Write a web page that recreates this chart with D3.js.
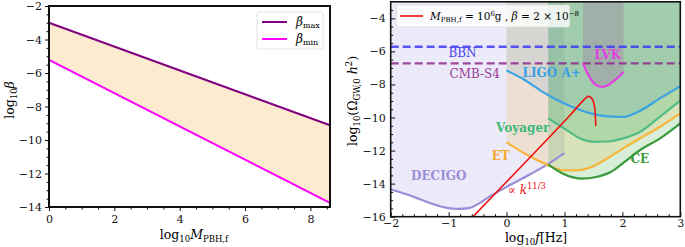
<!DOCTYPE html>
<html>
<head>
<meta charset="utf-8">
<script src="https://cdn.jsdelivr.net/npm/d3@7"></script>
<style>
  body { margin: 0; background: #fff; }
  svg text { font-family: "DejaVu Serif", serif; }
</style>
</head>
<body>
<div id="chart"></div>
<script>
// ---- data ---------------------------------------------------------
// left panel: log10 beta bounds vs log10 M
const betaMax = [[0, -3.0], [8.6, -9.12]];
const betaMin = [[0, -5.22], [8.6, -13.75]];

// right panel: sensitivity curves, [log10 f, log10 Omega h^2]
const decigo = [[-2, -14.34], [-1.6, -14.8], [-1.3, -15.2], [-1.05, -15.45], [-0.85, -15.53],
  [-0.65, -15.48], [-0.5, -15.25], [-0.3, -14.8], [0, -14.2], [0.4, -13.45], [0.7, -12.85], [1.0, -12.15]];
const ligo = [[0, -7.15], [0.3, -7.7], [0.6, -8.4], [0.9, -8.98], [1.2, -9.45], [1.45, -9.75],
  [1.7, -9.92], [2.0, -9.97], [2.3, -9.6], [2.65, -8.84], [3.0, -8.1]];
const voyager = [[0.72, -10.05], [0.9, -10.45], [1.1, -10.9], [1.3, -11.32], [1.5, -11.47],
  [1.75, -11.45], [2.0, -11.28], [2.3, -10.88], [2.65, -9.95], [3.0, -8.98]];
const et = [[0, -11.5], [0.35, -12.25], [0.7, -12.85], [0.95, -13.18], [1.2, -13.2], [1.5, -12.95],
  [1.75, -12.45], [2.0, -11.9], [2.3, -11.27], [2.65, -10.56], [3.0, -9.75]];
const ce = [[0.72, -12.85], [0.95, -13.35], [1.15, -13.62], [1.3, -13.7], [1.55, -13.6],
  [1.8, -13.3], [2.05, -12.65], [2.3, -11.98], [2.65, -11.26], [3.0, -10.35]];
const lvk = [[1.32, -6.7], [1.38, -7.2], [1.45, -7.65], [1.55, -8.05], [1.65, -8.15],
  [1.75, -8.05], [1.85, -7.8], [1.95, -7.5], [2.02, -7.25]];
const pbhSignal = [[-0.62, -16.15], [1.1, -9.85], [1.25, -9.25], [1.33, -8.95], [1.38, -8.78],
  [1.42, -8.72], [1.46, -8.8], [1.5, -9.05], [1.525, -9.5], [1.535, -10.0], [1.54, -10.5]];
const bbnLevel = -5.72;
const cmbLevel = -6.72;

const leftXTicks = [0, 2, 4, 6, 8];
const leftYTicks = [-2, -4, -6, -8, -10, -12, -14];
const rightXTicks = [-2, -1, 0, 1, 2, 3];
const rightYTicks = [-4, -6, -8, -10, -12, -14, -16];

const W = 685, H = 247;
const svg = d3.select('#chart').append('svg')
  .attr('width', W).attr('height', H);

const fmt = v => (v < 0 ? '\u2212' + Math.abs(v) : '' + v);

// ---- left panel ------------------------------------------------------
const xL = d3.scaleLinear().domain([0, 8.6]).range([49, 330]);
const yL = d3.scaleLinear().domain([-14, -2]).range([207, 6]);
const gL = svg.append('g');

gL.append('path')
  .datum(betaMax.map((d, i) => [d[0], d[1], betaMin[i][1]]))
  .attr('fill', '#fdebd0')
  .attr('d', d3.area().x(d => xL(d[0])).y0(d => yL(d[2])).y1(d => yL(d[1])));

const lineL = d3.line().x(d => xL(d[0])).y(d => yL(d[1]));
gL.append('path').datum(betaMax).attr('fill', 'none').attr('stroke', '#800080')
  .attr('stroke-width', 2).attr('d', lineL);
gL.append('path').datum(betaMin).attr('fill', 'none').attr('stroke', '#ff00ff')
  .attr('stroke-width', 2).attr('d', lineL);

// axes, ticks outward
gL.append('g').attr('transform', 'translate(0,207)')
  .call(d3.axisBottom(xL).tickValues(leftXTicks).tickFormat(fmt).tickSize(4).tickPadding(4));
gL.append('g').attr('transform', 'translate(0,207)')
  .call(d3.axisBottom(xL).tickValues(d3.range(0, 8.6, 0.5).filter(v => v % 2 !== 0)).tickFormat('').tickSize(2.5));
gL.append('g').attr('transform', 'translate(49,0)')
  .call(d3.axisLeft(yL).tickValues(leftYTicks).tickFormat(fmt).tickSize(4).tickPadding(3));
gL.append('g').attr('transform', 'translate(49,0)')
  .call(d3.axisLeft(yL).tickValues(d3.range(-14, -2, 0.5).filter(v => v % 2 !== 0)).tickFormat('').tickSize(2.5));

gL.append('rect').attr('x', 49).attr('y', 6).attr('width', 281).attr('height', 201)
  .attr('fill', 'none').attr('stroke', '#111').attr('stroke-width', 2);

// legend
const lgL = gL.append('g');
lgL.append('rect').attr('x', 257).attr('y', 12).attr('width', 66).attr('height', 37).attr('rx', 2)
  .attr('fill', '#fff').attr('stroke', '#ddd').attr('stroke-width', 0.8);
[['#800080', 'max', 22], ['#ff00ff', 'min', 39]].forEach(([c, s, yy]) => {
  lgL.append('line').attr('x1', 262).attr('x2', 287).attr('y1', yy).attr('y2', yy)
    .attr('stroke', c).attr('stroke-width', 2);
  const t = lgL.append('text').attr('x', 296).attr('y', yy + 4).attr('font-size', 12);
  t.append('tspan').attr('font-style', 'italic').text('\u03b2');
  t.append('tspan').attr('font-size', 8).attr('dy', 2).text(s);
});

// ---- right panel -----------------------------------------------------
const xR = d3.scaleLinear().domain([-2, 3]).range([390.7, 680.3]);
const yR = d3.scaleLinear().domain([-16, -3]).range([216.7, 1.8]);
const gR = svg.append('g');

svg.append('defs').append('clipPath').attr('id', 'clipR')
  .append('rect').attr('x', 390.7).attr('y', 1.8).attr('width', 289.6).attr('height', 214.9);
const plot = gR.append('g').attr('clip-path', 'url(#clipR)');

const yTop = yR(-3);
const areaTop = d3.area().curve(d3.curveMonotoneX)
  .x(d => xR(d[0])).y0(yTop).y1(d => yR(d[1]));
const lineR = d3.line().curve(d3.curveMonotoneX).x(d => xR(d[0])).y(d => yR(d[1]));

const fills = [
  [decigo, '#9b8cdc', 0.19],
  [et, '#ffa500', 0.15],
  [ce, '#2ca02c', 0.18],
  [voyager, '#3cb371', 0.26],
  [ligo, '#3d8fd0', 0.13],
  [lvk, '#9a3aa0', 0.2]
];
fills.forEach(([d, c, o]) => {
  plot.append('path').datum(d).attr('fill', c).attr('fill-opacity', o).attr('d', areaTop);
});

// dashed bounds
plot.append('line').attr('x1', xR(-2)).attr('x2', xR(3)).attr('y1', yR(bbnLevel)).attr('y2', yR(bbnLevel))
  .attr('stroke', '#3b3bf5').attr('stroke-width', 2.4).attr('stroke-dasharray', '8,4').attr('stroke-opacity', 0.85);
plot.append('line').attr('x1', xR(-2)).attr('x2', xR(3)).attr('y1', yR(cmbLevel)).attr('y2', yR(cmbLevel))
  .attr('stroke', '#8e2a8e').attr('stroke-width', 2.2).attr('stroke-dasharray', '8,4').attr('stroke-opacity', 0.85);

const curves = [
  [decigo, '#9b8ed8'],
  [et, '#f6b53c'],
  [ce, '#3a9a3a'],
  [voyager, '#4fbd85'],
  [ligo, '#3ba3e3'],
  [lvk, '#e33fe3']
];
curves.forEach(([d, c]) => {
  plot.append('path').datum(d).attr('fill', 'none').attr('stroke', c)
    .attr('stroke-width', 2.2).attr('d', lineR);
});
plot.append('path').datum(pbhSignal).attr('fill', 'none').attr('stroke', '#ee1111')
  .attr('stroke-width', 1.6).attr('d', d3.line().curve(d3.curveCatmullRom).x(d => xR(d[0])).y(d => yR(d[1])));

// labels
const labels = [
  ['BBN', -0.76, -6.35, '#4848ee', 'normal'],
  ['CMB-S4', -0.55, -7.6, '#9a3c9a', 'normal'],
  ['LIGO A+', 0.78, -7.55, '#3a9fe0', 'bold'],
  ['LVK', 1.75, -6.45, '#e33fe3', 'bold'],
  ['Voyager', 0.28, -10.85, '#3cb878', 'bold'],
  ['ET', -0.1, -12.6, '#f5a930', 'bold'],
  ['CE', 2.3, -12.75, '#3a9a3a', 'bold'],
  ['DECIGO', -1.17, -13.8, '#9b8ed8', 'bold']
];
labels.forEach(([t, fx, fy, c, w]) => {
  gR.append('text').attr('x', xR(fx)).attr('y', yR(fy)).attr('text-anchor', 'middle')
    .attr('font-size', 12).attr('font-weight', w).attr('fill', c).text(t);
});
const kl = gR.append('text').attr('x', xR(0.02)).attr('y', yR(-14.6)).attr('fill', '#ee1111').attr('font-size', 12);
kl.append('tspan').text('\u221d ');
kl.append('tspan').attr('font-style', 'italic').text('k');
kl.append('tspan').attr('font-size', 8.5).attr('dy', -5).text('11/3');

// axes, ticks inward
gR.append('g').attr('transform', 'translate(0,216.7)')
  .call(d3.axisBottom(xR).tickValues(rightXTicks).tickFormat(fmt).tickSize(-4.5).tickPadding(2.5));
gR.append('g').attr('transform', 'translate(0,216.7)')
  .call(d3.axisBottom(xR).tickValues(d3.range(-2, 3, 0.2).map(v => +v.toFixed(1)).filter(v => !Number.isInteger(v))).tickFormat('').tickSize(-2.5));
gR.append('g').attr('transform', 'translate(390.7,0)')
  .call(d3.axisLeft(yR).tickValues(rightYTicks).tickFormat(fmt).tickSize(-4.5).tickPadding(5));
gR.append('g').attr('transform', 'translate(390.7,0)')
  .call(d3.axisLeft(yR).tickValues(d3.range(-16, -3, 0.5).filter(v => v % 2 !== 0)).tickFormat('').tickSize(-2.5));

gR.append('rect').attr('x', 390.7).attr('y', 1.8).attr('width', 289.6).attr('height', 214.9)
  .attr('fill', 'none').attr('stroke', '#111').attr('stroke-width', 1.6);

// legend
const lgR = gR.append('g');
lgR.append('rect').attr('x', 396.5).attr('y', 5).attr('width', 173).attr('height', 22).attr('rx', 2)
  .attr('fill', '#fff').attr('fill-opacity', 0.8).attr('stroke', '#ddd').attr('stroke-width', 0.8);
lgR.append('line').attr('x1', 400).attr('x2', 423).attr('y1', 16).attr('y2', 16)
  .attr('stroke', '#ee1111').attr('stroke-width', 1.6);
const lt = lgR.append('text').attr('x', 430).attr('y', 20).attr('font-size', 10.5);
lt.append('tspan').attr('font-style', 'italic').text('M');
lt.append('tspan').attr('font-size', 7).attr('dy', 2).text('PBH,f');
lt.append('tspan').attr('dy', -2).text(' = 10');
lt.append('tspan').attr('font-size', 7).attr('dy', -4).text('6');
lt.append('tspan').attr('dy', 4).text('g , ');
lt.append('tspan').attr('font-style', 'italic').text('\u03b2');
lt.append('tspan').text(' = 2 \u00d7 10');
lt.append('tspan').attr('font-size', 7).attr('dy', -4).text('\u22128');

// ---- axis styling + titles ---------------------------------------------
svg.selectAll('.tick text').attr('font-size', 11).attr('font-family', '"DejaVu Serif", serif').attr('fill', '#111');
svg.selectAll('.domain').remove();
svg.selectAll('.tick line').attr('stroke', '#111');

function logTitle(parent, x, y, rotate) {
  const t = parent.append('text').attr('font-size', 12.5).attr('text-anchor', 'middle')
    .attr('transform', `translate(${x},${y})` + (rotate ? ' rotate(-90)' : ''));
  t.append('tspan').text('log');
  t.append('tspan').attr('font-size', 8.5).attr('dy', 3).text('10');
  return t;
}
let t = logTitle(svg, 194, 239, false);
t.append('tspan').attr('dy', -3).attr('font-style', 'italic').text('M');
t.append('tspan').attr('font-size', 8.5).attr('dy', 3).text('PBH,f');

t = logTitle(svg, 14, 100, true);
t.append('tspan').attr('dy', -3).attr('font-style', 'italic').text('\u03b2');

t = logTitle(svg, 536, 242, false);
t.append('tspan').attr('dy', -3).attr('font-style', 'italic').text('f');
t.append('tspan').text('[Hz]');

t = logTitle(svg, 357, 101, true);
t.append('tspan').attr('dy', -3).text('(\u03a9');
t.append('tspan').attr('font-size', 8.5).attr('dy', 3).text('GW,0');
t.append('tspan').attr('dy', -3).attr('font-style', 'italic').text(' h');
t.append('tspan').attr('font-size', 8.5).attr('dy', -5).text('2');
t.append('tspan').attr('dy', 5).text(')');
</script>
</body>
</html>
